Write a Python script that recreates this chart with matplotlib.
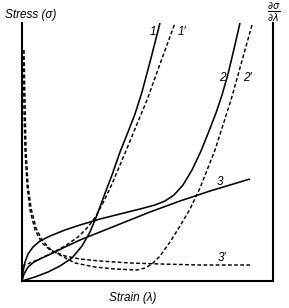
import matplotlib
matplotlib.use("Agg")
import matplotlib.pyplot as plt

plt.rcParams['font.family'] = ['Liberation Sans', 'DejaVu Sans']
plt.rcParams['mathtext.fontset'] = 'dejavusans'

# Curve 1 (stress) and 1' (derivative)
c1_x = [0, 13, 26, 38, 50, 60, 68, 75, 82, 90, 98, 106, 113, 120, 128, 138]
c1_y = [0, 4, 9, 15, 23, 35, 49, 66, 85, 106, 129, 149, 167, 189, 219, 258]
d1_x = [0, 13, 28, 43, 56, 66, 74, 82, 90, 98, 106, 115, 125, 138, 153]
d1_y = [15, 20, 27, 35, 44, 54, 65, 80, 97, 116, 135, 157, 181, 217, 258]

# Curve 2 and 2'
c2_x = [0, 1, 3, 6, 11, 18, 28, 43, 58, 78, 98, 118, 133, 143, 152, 161, 170, 179, 187, 194, 200, 206, 212, 218]
c2_y = [0, 9, 19, 27, 34, 40, 45, 51, 56, 62, 67, 72, 76, 80, 86, 96, 111, 130, 150, 168, 186, 207, 232, 258]
d2_x = [2, 3, 4, 6, 9, 14, 20, 28, 36, 53, 73, 93, 115, 123, 130, 138, 148, 158, 168, 178, 193, 209, 230]
d2_y = [231, 181, 131, 96, 73, 53, 41, 32, 27, 18, 14, 12, 11, 13, 17, 25, 39, 55, 72, 93, 131, 181, 256]

# Curve 3 and 3'
c3_x = [0, 2, 6, 12, 20, 33, 43, 58, 78, 103, 128, 158, 188, 228]
c3_y = [0, 7, 14, 19, 23, 29, 34, 41, 49, 59, 69, 80, 90, 102]
d3_x = [1, 2, 3, 5, 8, 13, 20, 28, 43, 58, 78, 108, 138, 178, 230]
d3_y = [231, 171, 131, 96, 71, 51, 38, 31, 25, 22, 20, 18, 17, 16, 16]

labels = ["1", "1\u2032", "2", "2\u2032", "3", "3\u2032"]
label_x = [131, 160, 200, 225, 198, 200]
label_y = [249, 249, 203, 203, 99, 23]

W, H = 289, 308
fig = plt.figure(figsize=(W / 100, H / 100), dpi=100)
ax = fig.add_axes([22 / W, 1 - 281 / H, 251 / W, 258 / H])
ax.set_xlim(0, 251)
ax.set_ylim(0, 258)

solid = dict(color='black', lw=1.15, solid_capstyle='butt')
dashed = dict(color='black', lw=1.05, linestyle=(0, (2.6, 1.6)))
ax.plot(c1_x, c1_y, **solid)
ax.plot(c2_x, c2_y, **solid)
ax.plot(c3_x, c3_y, **solid)
ax.plot(d1_x, d1_y, **dashed)
ax.plot(d2_x, d2_y, **dashed)
ax.plot(d3_x, d3_y, **dashed)

for t, x, y in zip(labels, label_x, label_y):
    ax.text(x, y, t, fontsize=8.5, style='italic', ha='center', va='center')

for s in ['left', 'right', 'bottom']:
    ax.spines[s].set_linewidth(1.5)
ax.spines['top'].set_visible(False)
ax.set_xticks([])
ax.set_yticks([])

fig.text(31 / W, 1 - 15 / H, "Stress (\u03c3)", fontsize=8.5, style='italic', ha='center', va='center')
fig.text(133 / W, 1 - 298 / H, "Strain (\u03bb)", fontsize=8.5, style='italic', ha='center', va='center')
fig.text(274 / W, 1 - 12 / H, r'$\frac{\partial\sigma}{\partial\lambda}$', fontsize=10, ha='center', va='center')

fig.savefig("out.png", dpi=100)
